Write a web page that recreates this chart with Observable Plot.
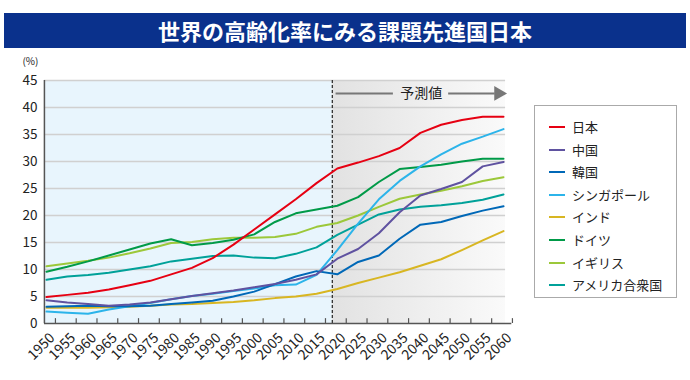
<!DOCTYPE html>
<html><head><meta charset="utf-8">
<script src="https://cdn.jsdelivr.net/npm/d3@7"></script>
<script src="https://cdn.jsdelivr.net/npm/@observablehq/plot@0.6"></script>
<style>
body{margin:0;background:#fff;font-family:"Noto Sans CJK JP","Noto Sans",sans-serif;}
#wrap{position:relative;width:690px;height:380px;overflow:hidden;}
#chart{position:absolute;left:0;top:0;}
#title{position:absolute;left:4px;top:13px;width:682px;height:35px;background:#0a318c;color:#fff;font-weight:700;font-size:22px;line-height:35px;text-align:center;letter-spacing:0px;}
#legend{position:absolute;left:534px;top:105px;width:141px;height:191px;border:1px solid #aaa;background:#fff;}
.item{position:absolute;left:0;height:20px;width:140px;font-size:13px;color:#222;}
.sw{position:absolute;left:14px;top:9px;width:16px;height:2px;}
.lb{position:absolute;left:37px;top:0;line-height:20px;white-space:nowrap;}
</style></head>
<body>
<div id="wrap">
  <div id="chart"></div>
  <div id="title">世界の高齢化率にみる課題先進国日本</div>
  <div id="legend"></div>
</div>
<script>
const years = [1950,1955,1960,1965,1970,1975,1980,1985,1990,1995,2000,2005,2010,2015,2020,2025,2030,2035,2040,2045,2050,2055,2060];
const yTicks = [0,5,10,15,20,25,30,35,40,45];
const names = ["日本","中国","韓国","シンガポール","インド","ドイツ","イギリス","アメリカ合衆国"];
const colors = ["#e60012","#5f52a0","#0068b7","#2cb4ea","#d8b622","#009a48","#9cc83a","#00a199"];
const japan     = [4.9,5.3,5.7,6.3,7.1,7.9,9.1,10.3,12.1,14.6,17.4,20.2,23.0,26.0,28.7,29.8,31.0,32.5,35.3,36.8,37.7,38.3,38.3];
const china     = [4.3,3.9,3.6,3.3,3.5,3.9,4.5,5.1,5.6,6.1,6.7,7.3,8.1,9.1,12.0,13.8,16.7,20.6,23.7,24.9,26.2,29.1,29.9];
const korea     = [3.1,3.2,3.3,3.2,3.2,3.3,3.6,3.9,4.2,5.0,5.9,7.3,8.7,9.7,9.1,11.4,12.6,15.7,18.3,18.8,19.9,20.9,21.7];
const singapore = [2.2,2.0,1.8,2.6,3.2,3.8,4.5,5.1,5.5,6.0,6.5,7.1,7.2,9.0,13.6,18.5,23.0,26.4,29.1,31.3,33.3,34.6,36.0];
const india     = [2.9,2.9,2.9,3.0,3.1,3.3,3.5,3.6,3.8,4.0,4.3,4.7,5.0,5.5,6.4,7.5,8.5,9.5,10.7,11.9,13.6,15.4,17.1];
const germany   = [9.6,10.5,11.5,12.6,13.7,14.8,15.6,14.5,14.9,15.5,16.5,18.8,20.4,21.1,21.8,23.4,26.2,28.6,29.0,29.4,30.0,30.5,30.5];
const uk        = [10.6,11.1,11.6,12.2,13.0,13.9,14.9,15.1,15.6,15.9,15.9,16.0,16.6,17.9,18.6,20.0,21.6,23.1,23.9,24.6,25.4,26.4,27.1];
const usa       = [8.1,8.7,9.0,9.4,10.0,10.6,11.5,12.0,12.5,12.6,12.2,12.1,12.9,14.1,16.4,18.3,20.2,21.1,21.6,21.9,22.3,22.9,23.9];
const seriesValues = [japan,china,korea,singapore,india,germany,uk,usa];
const forecastLabel = "予測値";

const xStart = 1949.5, xEnd = 2060.5, axisEnd = 2062, forecastStart = 2018.8, tickShift = 2.15;
const arrowY = 42.6;

const rows = [];
for (let s = names.length - 1; s >= 0; s--) {
  years.forEach((yr, i) => rows.push({year: yr, value: seriesValues[s][i], name: names[s]}));
}

const chart = Plot.plot({
  width: 690, height: 380,
  marginLeft: 46, marginRight: 187, marginTop: 80, marginBottom: 57,
  x: {domain: [1950, 2060], axis: null},
  y: {domain: [0, 45], axis: null},
  color: {domain: names, range: colors},
  style: {fontFamily: '"Noto Sans CJK JP","Noto Sans",sans-serif', background: "transparent", overflow: "visible"},
  marks: [
    Plot.rect([0], {x1: xStart, x2: forecastStart, y1: 0, y2: 45, fill: "#e8f5fd"}),
    Plot.rect([0], {x1: forecastStart, x2: xEnd, y1: 0, y2: 45, fill: "url(#fgrad)"}),
    Plot.ruleY(yTicks.filter(d => d > 0), {x1: xStart, x2: xEnd, stroke: "#d0d0d0", strokeWidth: 1.5}),
    Plot.ruleX([forecastStart], {y1: 0, y2: 45, stroke: "#333", strokeDasharray: "3,2", strokeWidth: 1.3}),
    Plot.ruleY([arrowY], {x1: 2019.7, x2: 2033.5, stroke: "#777", strokeWidth: 2}),
    Plot.ruleY([arrowY], {x1: 2046.8, x2: 2058, stroke: "#777", strokeWidth: 2}),
    Plot.dot([0], {x: 2058.8, y: arrowY, symbol: "triangle", r: 5.5, fill: "#777", stroke: "none", rotate: 90}),
    Plot.text([forecastLabel], {x: 2040.2, y: arrowY, text: d => d, fontSize: 14, fill: "#222"}),
    Plot.line(rows, {x: "year", y: "value", z: "name", stroke: "name", strokeWidth: 2}),
    Plot.ruleX([xStart], {y1: 0, y2: 45, stroke: "#555", strokeWidth: 1.5}),
    Plot.ruleY([0], {x1: xStart, x2: axisEnd, stroke: "#555", strokeWidth: 1.5}),
    Plot.ruleX(years, {x: d => d + tickShift, y1: 0, y2: 0.9, stroke: "#555", strokeWidth: 1.2}),
    Plot.text(yTicks, {x: xStart, y: d => d, text: d => String(d), textAnchor: "end", dx: -7, fontSize: 13.5, fill: "#222"}),
    Plot.text(["(%)"], {x: xStart, y: 45, text: d => d, textAnchor: "end", dx: -6, dy: -19, fontSize: 10, fill: "#222"}),
    Plot.text(years, {x: d => d + tickShift, y: 0, text: d => String(d), rotate: -45, textAnchor: "end", dx: -3, dy: 12, fontSize: 14, fill: "#222"})
  ]
});

d3.select(chart).insert("defs", ":first-child").html(
  '<linearGradient id="fgrad" x1="0" x2="1" y1="0" y2="0">' +
  '<stop offset="0" stop-color="#e2e2e2"/><stop offset="1" stop-color="#fafafa"/></linearGradient>'
);
document.getElementById("chart").appendChild(chart);

const legend = document.getElementById("legend");
names.forEach((n, i) => {
  const it = document.createElement("div");
  it.className = "item";
  it.style.top = (11 + i * 22.6) + "px";
  it.innerHTML = `<div class="sw" style="background:${colors[i]}"></div><div class="lb">${n}</div>`;
  legend.appendChild(it);
});
</script>
</body></html>
